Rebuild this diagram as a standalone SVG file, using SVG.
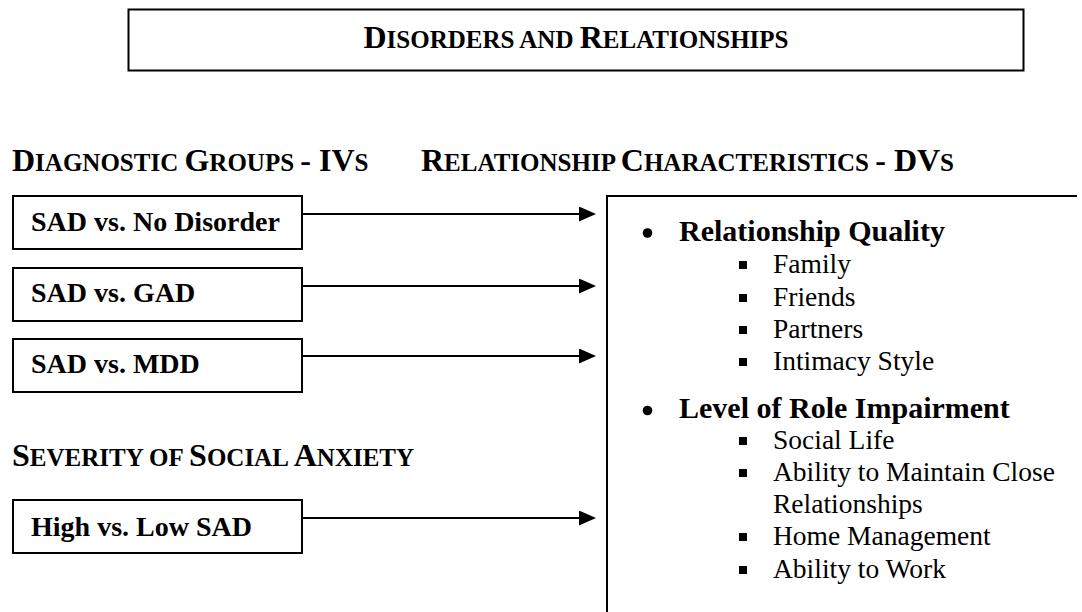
<svg xmlns="http://www.w3.org/2000/svg" width="1082" height="612" viewBox="0 0 1082 612">
  <style>
    text { font-family: "Liberation Serif", "Times New Roman", serif; fill: #000; }
    .hd { font-weight: bold; font-size: 32px; }
    .sc { font-size: 25px; }
    .box { fill: #fff; stroke: #000; stroke-width: 2; }
    .lbl { font-weight: bold; font-size: 28px; }
    .h2 { font-weight: bold; font-size: 30px; }
    .item { font-size: 27.5px; }
    .conn { stroke: #000; stroke-width: 2; fill: none; }
  </style>
  <defs>
    <marker id="arrow" viewBox="0 0 17 15" refX="15" refY="7.5" markerWidth="17" markerHeight="15" markerUnits="userSpaceOnUse" orient="auto">
      <polygon points="0,0 17,7.5 0,15" fill="#000"/>
    </marker>
    <rect id="sq" x="0" y="0" width="8" height="8" fill="#000"/>
  </defs>
  <rect width="1082" height="612" fill="#fff"/>

  <g id="title">
    <rect class="box" x="128.5" y="9.5" width="895" height="61" stroke-width="2.5"/>
    <text class="hd" x="576" y="48" text-anchor="middle">D<tspan class="sc">ISORDERS AND </tspan>R<tspan class="sc">ELATIONSHIPS</tspan></text>
  </g>

  <g id="heading-iv">
    <text class="hd" x="12" y="171">D<tspan class="sc">IAGNOSTIC </tspan>G<tspan class="sc">ROUPS </tspan>- IV<tspan class="sc">S</tspan></text>
  </g>
  <g id="heading-dv">
    <text class="hd" x="421" y="171">R<tspan class="sc">ELATIONSHIP </tspan>C<tspan class="sc">HARACTERISTICS </tspan>- DV<tspan class="sc">S</tspan></text>
  </g>
  <g id="heading-severity">
    <text class="hd" x="12" y="466">S<tspan class="sc">EVERITY OF </tspan>S<tspan class="sc">OCIAL </tspan>A<tspan class="sc">NXIETY</tspan></text>
  </g>

  <g id="node-sad-none">
    <rect class="box" x="13" y="196" width="289" height="53"/>
    <text class="lbl" x="31" y="231">SAD vs. No Disorder</text>
  </g>
  <g id="node-sad-gad">
    <rect class="box" x="13" y="268" width="289" height="53"/>
    <text class="lbl" x="31" y="302">SAD vs. GAD</text>
  </g>
  <g id="node-sad-mdd">
    <rect class="box" x="13" y="339" width="289" height="53"/>
    <text class="lbl" x="31" y="373">SAD vs. MDD</text>
  </g>
  <g id="node-high-low">
    <rect class="box" x="13" y="500" width="289" height="53"/>
    <text class="lbl" x="31" y="536">High vs. Low SAD</text>
  </g>

  <g id="node-dvs">
    <path class="conn" d="M1077,196 H607 V612"/>
    <circle cx="647.5" cy="233" r="4.8" fill="#000"/>
    <text class="h2" x="679" y="241">Relationship Quality</text>
    <use href="#sq" x="739" y="261"/>
    <text class="item" x="773" y="273">Family</text>
    <use href="#sq" x="739" y="294"/>
    <text class="item" x="773" y="306">Friends</text>
    <use href="#sq" x="739" y="326"/>
    <text class="item" x="773" y="338">Partners</text>
    <use href="#sq" x="739" y="358"/>
    <text class="item" x="773" y="370">Intimacy Style</text>
    <circle cx="647.5" cy="410.5" r="4.8" fill="#000"/>
    <text class="h2" x="679" y="418">Level of Role Impairment</text>
    <use href="#sq" x="739" y="437"/>
    <text class="item" x="773" y="449">Social Life</text>
    <use href="#sq" x="739" y="469"/>
    <text class="item" x="773" y="481">Ability to Maintain Close</text>
    <text class="item" x="773" y="513">Relationships</text>
    <use href="#sq" x="739" y="533"/>
    <text class="item" x="773" y="545">Home Management</text>
    <use href="#sq" x="739" y="566"/>
    <text class="item" x="773" y="578">Ability to Work</text>
  </g>

  <g id="connectors">
    <line class="conn" x1="302" y1="214" x2="594" y2="214" marker-end="url(#arrow)"/>
    <line class="conn" x1="302" y1="286" x2="594" y2="286" marker-end="url(#arrow)"/>
    <line class="conn" x1="302" y1="356" x2="594" y2="356" marker-end="url(#arrow)"/>
    <line class="conn" x1="302" y1="518" x2="594" y2="518" marker-end="url(#arrow)"/>
  </g>
</svg>
